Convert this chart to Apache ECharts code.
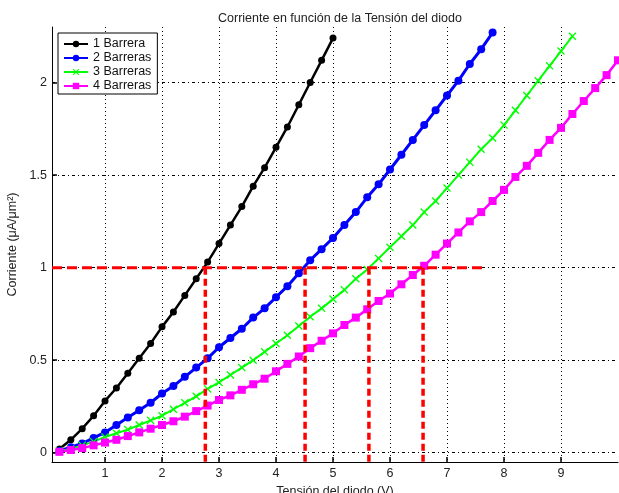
<!DOCTYPE html>
<html>
<head>
<meta charset="utf-8">
<script src="https://cdn.jsdelivr.net/npm/echarts@6/dist/echarts.min.js"></script>
<style>html,body{margin:0;padding:0;background:#fff}#c{width:619px;height:493px}</style>
</head>
<body>
<div id="c"></div>
<script>
const voltage = [0.2,0.4,0.6,0.8,1.0,1.2,1.4,1.6,1.8,2.0,2.2,2.4,2.6,2.8,3.0,3.2,3.4,3.6,3.8,4.0,
  4.2,4.4,4.6,4.8,5.0,5.2,5.4,5.6,5.8,6.0,6.2,6.4,6.6,6.8,7.0,7.2,7.4,7.6,7.8,8.0,
  8.2,8.4,8.6,8.8,9.0,9.2,9.4,9.6,9.8,10.0];
const barrera1 = [0.02,0.07,0.13,0.20,0.28,0.35,0.43,0.51,0.59,0.68,0.76,0.85,0.94,1.03,1.13,1.23,1.33,1.44,1.54,1.65,
  1.76,1.88,2.00,2.12,2.24];
const barrera2 = [0.01,0.03,0.05,0.08,0.11,0.15,0.19,0.23,0.27,0.32,0.36,0.41,0.46,0.51,0.57,0.62,0.67,0.73,0.78,0.84,
  0.90,0.97,1.04,1.10,1.16,1.23,1.30,1.38,1.45,1.53,1.61,1.69,1.77,1.85,1.93,2.01,2.10,2.18,2.27];
const barrera3 = [0.01,0.02,0.04,0.06,0.085,0.105,0.125,0.15,0.175,0.20,0.235,0.27,0.305,0.345,0.38,0.42,0.46,0.50,0.545,0.59,
  0.635,0.685,0.735,0.78,0.83,0.88,0.94,0.99,1.05,1.11,1.17,1.23,1.30,1.36,1.43,1.50,1.57,1.64,1.70,1.77,
  1.85,1.93,2.01,2.09,2.17,2.25];
const barrera4 = [0.005,0.015,0.025,0.04,0.055,0.07,0.09,0.11,0.13,0.15,0.17,0.195,0.225,0.255,0.285,0.31,0.34,0.37,0.40,0.44,
  0.48,0.52,0.565,0.605,0.645,0.69,0.73,0.775,0.82,0.86,0.91,0.96,1.01,1.07,1.13,1.19,1.25,1.30,1.36,1.42,
  1.49,1.55,1.62,1.69,1.755,1.83,1.90,1.97,2.04,2.12];
const seriesNames = ['1 Barrera','2 Barreras','3 Barreras','4 Barreras'];
const xTicks = [1,2,3,4,5,6,7,8,9];
const yTicks = [0,0.5,1,1.5,2];
const refCurrent = 1;
const refVoltages = [2.76,4.51,5.63,6.58];
const refLineEnd = 7.68;
const xMin = 0.07, xMax = 10, yMin = -0.05, yMax = 2.3;

const pairs = (ys) => ys.map((y,i) => [voltage[i], y]);
const xMark = 'path://M0,1.2L1.2,0L5,3.8L8.8,0L10,1.2L6.2,5L10,8.8L8.8,10L5,6.2L1.2,10L0,8.8L3.8,5Z';
const font = 'Liberation Sans, Arial, sans-serif';

const curveDefs = [
  {data: barrera1, color:'#000000', symbol:'circle', size:7, width:2.5},
  {data: barrera2, color:'#0000ff', symbol:'circle', size:8, width:3},
  {data: barrera3, color:'#00ff00', symbol:xMark, size:8, width:2},
  {data: barrera4, color:'#ff00ff', symbol:'rect', size:8, width:2.5}
];
const series = curveDefs.map((d,i) => ({
  name: seriesNames[i], type:'line', data: pairs(d.data),
  symbol: d.symbol, symbolSize: d.size, showSymbol:true,
  lineStyle:{color:d.color, width:d.width}, itemStyle:{color:d.color},
  z: 3, silent:true
}));
series.push({
  name:'ref-h', type:'line', data:[[xMin, refCurrent],[refLineEnd, refCurrent]],
  symbol:'none', lineStyle:{color:'#ff0000', width:3, type:[10,5]}, z:5, silent:true
});
refVoltages.forEach((v,i) => series.push({
  name:'ref-v'+i, type:'line', data:[[v, refCurrent],[v, yMin]],
  symbol:'none', lineStyle:{color:'#ff0000', width:3.5, type:[7,4]}, z:5, silent:true
}));

const chart = echarts.init(document.getElementById('c'), null, {renderer:'canvas'});
chart.setOption({
  animation:false,
  backgroundColor:'#fff',
  title:{text:'Corriente en función de la Tensión del diodo', left:335, textAlign:'center', top:7,
    textStyle:{fontFamily:font, fontSize:12.5, fontWeight:'normal', color:'#222'}},
  grid:{left:52, right:1, top:27, bottom:31, containLabel:false, outerBoundsMode:'none'},
  legend:{
    data: seriesNames, orient:'vertical', left:58, top:33,
    padding:[4,6,1,5], itemGap:0, itemWidth:24, itemHeight:8,
    borderColor:'#000', borderWidth:1, backgroundColor:'#fff',
    textStyle:{fontFamily:font, fontSize:12.5, color:'#111', lineHeight:14}, selectedMode:false
  },
  xAxis:{
    type:'value', min:xMin, max:xMax,
    name:'Tensión del diodo (V)', nameLocation:'middle', nameGap:20,
    nameTextStyle:{fontFamily:font, fontSize:12.5, color:'#222'},
    axisLine:{show:true, onZero:false, lineStyle:{color:'#000', width:1}},
    axisTick:{show:true, inside:true, length:5, customValues:xTicks, lineStyle:{color:'#000', width:1.5}},
    axisLabel:{customValues:xTicks, margin:5, fontFamily:font, fontSize:12.5, color:'#222'},
    splitLine:{show:true, lineStyle:{color:'#000', width:1, type:[1,3]}}
  },
  yAxis:{
    type:'value', min:yMin, max:yMax,
    name:'Corriente (μA/μm²)', nameLocation:'middle', nameGap:27,
    nameTextStyle:{fontFamily:font, fontSize:12.5, color:'#222'},
    axisLine:{show:true, onZero:false, lineStyle:{color:'#000', width:1}},
    axisTick:{show:true, inside:true, length:5, customValues:yTicks, lineStyle:{color:'#000', width:1.5}},
    axisLabel:{customValues:yTicks, margin:5, fontFamily:font, fontSize:12.5, color:'#222'},
    splitLine:{show:true, lineStyle:{color:'#000', width:1, type:[3,3,1,3]}}
  },
  series: series
});
</script>
</body>
</html>
